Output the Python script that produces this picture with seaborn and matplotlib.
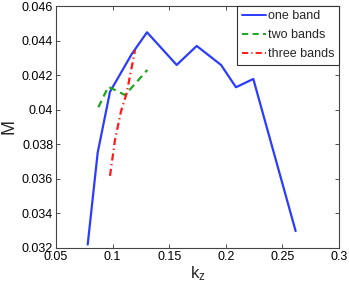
import matplotlib
matplotlib.use("Agg")
import matplotlib.pyplot as plt
import seaborn as sns
import pandas as pd

# Data
one_kz = [0.078, 0.0868, 0.0977, 0.1169, 0.1304, 0.1566, 0.1743, 0.1958, 0.209, 0.2243, 0.2617]
one_M = [0.0322, 0.03751, 0.04104, 0.04322, 0.04448, 0.04259, 0.04369, 0.04259, 0.0413, 0.04178, 0.03298]

two_kz = [0.0874, 0.0962, 0.111, 0.1307]
two_M = [0.04014, 0.04133, 0.04085, 0.0423]

three_kz = [0.0977, 0.1021, 0.1074, 0.1124, 0.1198]
three_M = [0.03617, 0.03825, 0.0399, 0.04095, 0.04345]

labels = ["one band", "two bands", "three bands"]
x_ticks = [0.05, 0.1, 0.15, 0.2, 0.25, 0.3]
x_ticklabels = ["0.05", "0.1", "0.15", "0.2", "0.25", "0.3"]
y_ticks = [0.032, 0.034, 0.036, 0.038, 0.04, 0.042, 0.044, 0.046]
y_ticklabels = ["0.032", "0.034", "0.036", "0.038", "0.04", "0.042", "0.044", "0.046"]

sns.set_style("ticks")
plt.rcParams["font.family"] = ["Liberation Sans", "DejaVu Sans"]
plt.rcParams["mathtext.fontset"] = "custom"
plt.rcParams["mathtext.rm"] = "Liberation Sans"
plt.rcParams["mathtext.it"] = "Liberation Sans"

fig = plt.figure(figsize=(3.49, 2.82), dpi=100)
ax = fig.add_axes([0.1605, 0.1206, 0.8108, 0.8581])

df1 = pd.DataFrame({"kz": one_kz, "M": one_M})
df2 = pd.DataFrame({"kz": two_kz, "M": two_M})
df3 = pd.DataFrame({"kz": three_kz, "M": three_M})

sns.lineplot(data=df1, x="kz", y="M", ax=ax, color="#2b3cff", lw=1.6,
             sort=False, estimator=None, label=labels[0])
sns.lineplot(data=df2, x="kz", y="M", ax=ax, color="#1fa61f", lw=1.6,
             sort=False, estimator=None, label=labels[1], dashes=False)
sns.lineplot(data=df3, x="kz", y="M", ax=ax, color="#ff1a1a", lw=1.6,
             sort=False, estimator=None, label=labels[2], dashes=False)

lines = ax.get_lines()
lines[1].set_dashes([3.2, 2.2])
lines[2].set_dashes([3.2, 1.6, 0.6, 1.6])

ax.set_xlim(0.05, 0.3)
ax.set_ylim(0.032, 0.046)
ax.set_xticks(x_ticks)
ax.set_xticklabels(x_ticklabels)
ax.set_yticks(y_ticks)
ax.set_yticklabels(y_ticklabels)
ax.tick_params(direction="in", length=3, width=0.6, labelsize=9,
               top=True, right=True, colors="#333333", labelcolor="black", pad=2)
for s in ax.spines.values():
    s.set_color("#444444")
    s.set_linewidth(0.8)

ax.set_xlabel(r"$\mathrm{k_z}$", fontsize=12, labelpad=1)
ax.set_ylabel("M", fontsize=13, labelpad=3)

leg = ax.legend(loc="upper right", borderaxespad=0, fancybox=False,
                edgecolor="#333333", framealpha=1, fontsize=9,
                handlelength=1.9, handletextpad=0.2, labelspacing=0.55,
                borderpad=0.35)
leg.get_frame().set_linewidth(0.8)
for h in leg.get_lines():
    h.set_linewidth(1.4)

fig.savefig("out.png", dpi=100)
